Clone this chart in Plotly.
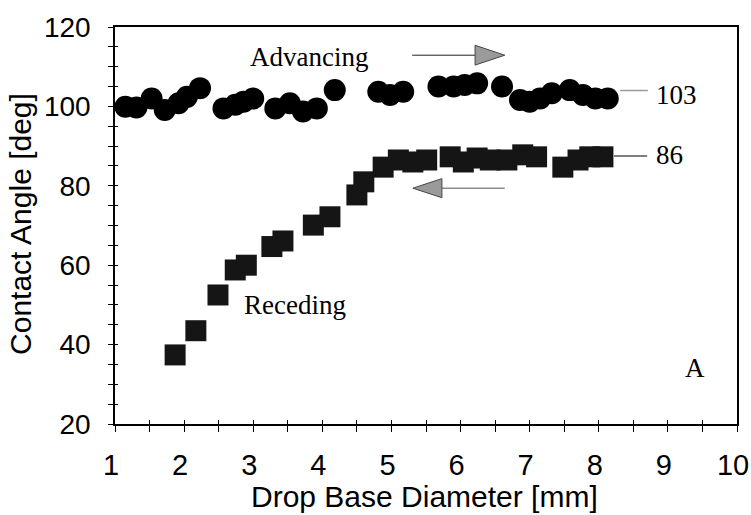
import plotly.graph_objects as go

# Advancing contact angle vs drop base diameter
adv_d = [1.15, 1.31, 1.53, 1.72, 1.92, 2.04, 2.23, 2.57, 2.74, 2.86, 3.00, 3.32,
         3.53, 3.72, 3.92, 4.18, 4.81, 4.98, 5.17, 5.68, 5.90, 6.06, 6.24, 6.60,
         6.86, 7.00, 7.15, 7.32, 7.58, 7.77, 7.95, 8.13]
adv_theta = [99.9, 99.7, 102.0, 99.1, 100.8, 102.4, 104.6, 99.5, 100.4, 101.2, 102.0, 99.5,
             100.8, 98.7, 99.5, 104.1, 103.7, 102.9, 103.7, 105.0, 105.0, 105.4, 105.8, 105.0,
             101.6, 101.2, 102.0, 103.3, 104.1, 102.9, 102.0, 102.0]

# Receding contact angle vs drop base diameter
rec_d = [1.87, 2.17, 2.49, 2.74, 2.90, 3.27, 3.43, 3.87, 4.11, 4.50, 4.60, 4.88,
         5.10, 5.31, 5.51, 5.85, 6.04, 6.24, 6.43, 6.67, 6.90, 7.10, 7.48, 7.70,
         7.87, 8.06]
rec_theta = [37.4, 43.5, 52.5, 58.8, 60.0, 64.7, 66.1, 70.1, 72.2, 77.7, 81.0, 84.7,
             86.5, 86.0, 86.5, 87.3, 86.0, 87.0, 86.5, 86.5, 87.8, 87.3, 84.7, 86.5,
             87.3, 87.3]

x_ticks = [1, 2, 3, 4, 5, 6, 7, 8, 9, 10]
y_ticks = [20, 40, 60, 80, 100, 120]

SANS = "Liberation Sans, Arial, sans-serif"
SERIF = "Liberation Serif, Times New Roman, serif"

fig = go.Figure()
fig.add_trace(go.Scatter(
    x=adv_d, y=adv_theta, mode="markers", name="Advancing",
    marker=dict(symbol="circle", size=22, color="#000000", line=dict(width=0)),
))
fig.add_trace(go.Scatter(
    x=rec_d, y=rec_theta, mode="markers", name="Receding",
    marker=dict(symbol="square", size=21, color="#151515", line=dict(width=0)),
))
# invisible trace on the overlay axes so their inside ticks are drawn
fig.add_trace(go.Scatter(x=[1], y=[20], xaxis="x2", yaxis="y2", mode="markers",
                         marker=dict(opacity=0), showlegend=False, hoverinfo="skip"))

axis_line = dict(showline=True, linecolor="black", linewidth=1.5, mirror=True,
                 showgrid=False, zeroline=False, automargin=False)

fig.update_layout(
    width=751, height=515,
    margin=dict(l=115, r=14, t=27, b=91),
    paper_bgcolor="white", plot_bgcolor="white",
    showlegend=False,
    font=dict(family=SANS, color="black"),
    xaxis=dict(
        range=[1, 10], tickvals=x_ticks, ticks="outside", ticklen=6, tickwidth=1,
        tickcolor="black",
        minor=dict(dtick=0.5, ticks="outside", ticklen=6, tickcolor="black"),
        tickfont=dict(size=29, family=SANS), ticklabelstandoff=8,
        ticklabelshift=-4, ticklabeloverflow="allow",
        **axis_line,
    ),
    yaxis=dict(
        range=[20, 120], tickvals=y_ticks, ticks="outside", ticklen=5, tickwidth=1,
        tickcolor="black",
        minor=dict(dtick=5, ticks="outside", ticklen=5, tickcolor="black"),
        tickfont=dict(size=28, family=SANS), ticklabelstandoff=12,
        ticklabeloverflow="allow",
        **axis_line,
    ),
    xaxis2=dict(range=[1, 10], overlaying="x", anchor="y", dtick=0.5, ticks="inside",
                ticklen=4, tickcolor="black", showticklabels=False, showline=False,
                showgrid=False, zeroline=False),
    yaxis2=dict(range=[20, 120], overlaying="y", anchor="x", dtick=5, ticks="inside",
                ticklen=3, tickcolor="black", showticklabels=False, showline=False,
                showgrid=False, zeroline=False),
)

# axis titles, placed by hand
fig.add_annotation(text="Drop Base Diameter [mm]", showarrow=False,
                   xref="paper", yref="paper", x=0.498, y=-0.183,
                   xanchor="center", yanchor="middle",
                   font=dict(family=SANS, size=30, color="black"))
fig.add_annotation(text="Contact Angle [deg]", textangle=-90, showarrow=False,
                   xref="paper", yref="paper", x=-0.152, y=0.505,
                   xanchor="center", yanchor="middle",
                   font=dict(family=SANS, size=30, color="black"))

# text labels
labels = [
    ("Advancing", 3.81, 112.4, "center"),
    ("Receding", 3.60, 50.0, "center"),
    ("103", 8.80, 102.8, "left"),
    ("86", 8.80, 87.8, "left"),
    ("A", 9.39, 34.2, "center"),
]
for txt, lx, ly, anc in labels:
    fig.add_annotation(x=lx, y=ly, text=txt, showarrow=False, xanchor=anc,
                       yanchor="middle", font=dict(family=SERIF, size=27, color="black"))

# leader lines to the value labels
fig.add_shape(type="line", x0=8.31, x1=8.71, y0=104.0, y1=104.0,
              line=dict(color="#9a9a9a", width=1.5))
fig.add_shape(type="line", x0=8.22, x1=8.70, y0=87.5, y1=87.5,
              line=dict(color="#555555", width=1.5))

# direction arrows: thin shaft with a grey triangular head
fig.add_shape(type="line", x0=5.30, x1=6.21, y0=112.9, y1=112.9,
              line=dict(color="#222222", width=1))
fig.add_shape(type="path", path="M 6.21,115.4 L 6.64,112.9 L 6.21,110.4 Z",
              fillcolor="#9a9a9a", line=dict(color="#444444", width=1))
fig.add_shape(type="line", x0=5.73, x1=6.64, y0=79.4, y1=79.4,
              line=dict(color="#555555", width=1))
fig.add_shape(type="path", path="M 5.31,79.4 L 5.73,81.8 L 5.73,77.0 Z",
              fillcolor="#9a9a9a", line=dict(color="#444444", width=1))

fig.write_html("out.html")
